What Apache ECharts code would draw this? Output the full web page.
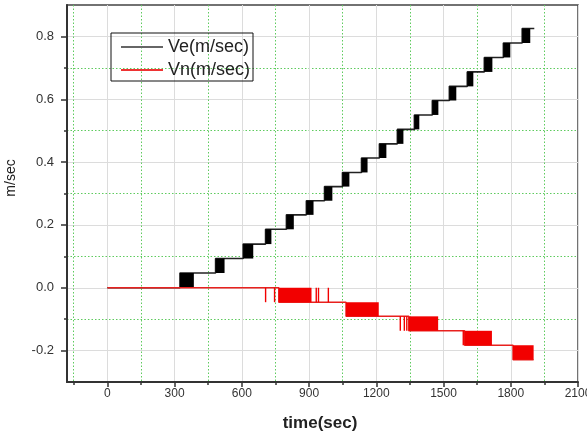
<!DOCTYPE html>
<html>
<head>
<meta charset="utf-8">
<script src="https://cdn.jsdelivr.net/npm/echarts@6/dist/echarts.min.js"></script>
<style>
html,body{margin:0;padding:0;background:#fff;}
#c{width:587px;height:442px;}
</style>
</head>
<body>
<div id="c"></div>
<script>
// ---- data ----
const xMajorTicks = [0, 300, 600, 900, 1200, 1500, 1800, 2100];
const xMinorTicks = [-150, 150, 450, 750, 1050, 1350, 1650, 1950];
const yMajorTicks = [-0.2, 0, 0.2, 0.4, 0.6, 0.8];
const yMinorTicks = [-0.1, 0.1, 0.3, 0.5, 0.7];

// Ve: step levels, and the time spans of the rapid-switching blocks between levels
const veLevels = [0, 0.047, 0.093, 0.139, 0.186, 0.232, 0.277, 0.322, 0.367, 0.413, 0.458, 0.504, 0.550, 0.596, 0.641, 0.687, 0.733, 0.779, 0.825];
const veBlockStart = [324, 483, 606, 706, 799, 888, 969, 1049, 1134, 1214, 1294, 1370, 1450, 1526, 1606, 1682, 1767, 1851];
const veBlockEnd   = [386, 523, 651, 732, 832, 920, 1004, 1080, 1161, 1245, 1321, 1392, 1477, 1557, 1633, 1718, 1798, 1887];
const veStartTime = 0;
const veEndTime = 1905;

// Vn: step levels, switching blocks and isolated spikes
const vnLevels = [0, -0.046, -0.091, -0.137, -0.183, -0.229];
const vnBlockStart = [765, 1065, 1345, 1594, 1810];
const vnBlockEnd   = [911, 1211, 1476, 1716, 1902];
const vnSpikeTimes = [703, 743, 929, 939, 983, 1304, 1322, 1333, 1585];
const vnSpikeStep  = [0, 0, 0, 0, 0, 2, 2, 2, 3];
const vnStartTime = 0;
const vnEndTime = 1902;

// ---- build series data ----
function buildLine(levels, starts, ends, t0, tEnd) {
  const pts = [[t0, levels[0]]];
  for (let k = 0; k < starts.length; k++) {
    pts.push([starts[k], levels[k]]);
    pts.push([starts[k], levels[k + 1]]);
  }
  pts.push([tEnd, levels[levels.length - 1]]);
  return pts;
}
function buildBlocks(levels, starts, ends) {
  return starts.map((s, k) => [s, ends[k], Math.min(levels[k], levels[k + 1]), Math.max(levels[k], levels[k + 1])]);
}
const veLine = buildLine(veLevels, veBlockStart, veBlockEnd, veStartTime, veEndTime);
const veBlocks = buildBlocks(veLevels, veBlockStart, veBlockEnd);
const vnLine = buildLine(vnLevels, vnBlockStart, vnBlockEnd, vnStartTime, vnEndTime);
const vnBlocks = buildBlocks(vnLevels, vnBlockStart, vnBlockEnd).concat(
  vnSpikeTimes.map((t, i) => [t, t, Math.min(vnLevels[vnSpikeStep[i]], vnLevels[vnSpikeStep[i] + 1]), Math.max(vnLevels[vnSpikeStep[i]], vnLevels[vnSpikeStep[i] + 1])])
);

function blockRenderer(color) {
  return function (params, api) {
    const p0 = api.coord([api.value(0), api.value(3)]);
    const p1 = api.coord([api.value(1), api.value(2)]);
    const w = Math.max(p1[0] - p0[0], 1.4);
    return {
      type: 'rect',
      shape: { x: p0[0], y: p0[1], width: w, height: p1[1] - p0[1] },
      style: { fill: color }
    };
  };
}

const FONT = "'Liberation Sans', Arial, sans-serif";
const chart = echarts.init(document.getElementById('c'), null, { renderer: 'canvas' });

chart.setOption({
  animation: false,
  backgroundColor: '#fff',
  grid: { left: 67, right: 9, top: 5, bottom: 60, outerBoundsMode: 'none', containLabel: false,
    show: true, borderColor: '#444', borderWidth: 1.5, backgroundColor: 'transparent' },
  xAxis: [
    {
      type: 'value', min: -180, max: 2100, position: 'bottom',
      axisLine: { show: true, onZero: false, lineStyle: { color: '#333', width: 2 } },
      axisTick: { show: true, customValues: xMajorTicks, length: 5, lineStyle: { color: '#333', width: 1.5 } },
      axisLabel: { customValues: xMajorTicks, fontSize: 12, color: '#333', margin: 6, fontFamily: FONT,
        alignMaxLabel: 'center', formatter: v => String(v) },
      splitLine: { show: true, lineStyle: { color: '#dcdcdc', width: 1 } }
    },
    {
      type: 'value', min: -180, max: 2100, position: 'bottom',
      axisLine: { show: false, onZero: false },
      axisTick: { show: true, customValues: xMinorTicks, length: 3, lineStyle: { color: '#333', width: 1.5 } },
      axisLabel: { show: false, customValues: xMinorTicks },
      splitLine: { show: true, lineStyle: { color: '#5ecb5e', width: 1, type: [1.5, 2] } }
    }
  ],
  yAxis: [
    {
      type: 'value', min: -0.3, max: 0.9, position: 'left',
      axisLine: { show: true, onZero: false, lineStyle: { color: '#333', width: 2 } },
      axisTick: { show: true, customValues: yMajorTicks, length: 6, lineStyle: { color: '#333', width: 1.5 } },
      axisLabel: { customValues: yMajorTicks, fontSize: 13, color: '#333', margin: 13, fontFamily: FONT,
        formatter: v => v.toFixed(1) },
      splitLine: { show: true, lineStyle: { color: '#dcdcdc', width: 1 } }
    },
    {
      type: 'value', min: -0.3, max: 0.9, position: 'left',
      axisLine: { show: false, onZero: false },
      axisTick: { show: true, customValues: yMinorTicks, length: 3, lineStyle: { color: '#333', width: 1.5 } },
      axisLabel: { show: false, customValues: yMinorTicks },
      splitLine: { show: true, lineStyle: { color: '#5ecb5e', width: 1, type: [1.5, 2] } }
    }
  ],
  legend: {
    orient: 'vertical', left: 111, top: 33,
    borderColor: '#111', borderWidth: 1, padding: [5, 3, 2, 10],
    itemWidth: 42, itemHeight: 2, itemGap: 5, icon: 'rect',
    textStyle: { fontSize: 18, color: '#222', fontFamily: FONT },
    data: [
      { name: 'Ve(m/sec)', itemStyle: { color: '#666' } },
      { name: 'Vn(m/sec)', itemStyle: { color: '#e33' } }
    ]
  },
  graphic: [
    { type: 'text', x: 11, y: 178, rotation: Math.PI / 2,
      style: { text: 'm/sec', fontSize: 14, fill: '#222', fontFamily: FONT, align: 'center', verticalAlign: 'middle' } },
    { type: 'text', x: 320, y: 423,
      style: { text: 'time(sec)', fontSize: 17, fontWeight: 'bold', fill: '#222', fontFamily: FONT, align: 'center', verticalAlign: 'middle' } }
  ],
  series: [
    { name: 'Ve(m/sec)', type: 'line', z: 2, xAxisIndex: 0, yAxisIndex: 0, data: veLine, showSymbol: false, symbol: 'none',
      lineStyle: { color: '#222', width: 1.6 }, itemStyle: { color: '#222' } },
    { name: 'Ve(m/sec)', type: 'custom', z: 3, xAxisIndex: 0, yAxisIndex: 0, data: veBlocks,
      encode: { x: [0, 1], y: [2, 3] }, renderItem: blockRenderer('#000') },
    { name: 'Vn(m/sec)', type: 'line', z: 4, xAxisIndex: 0, yAxisIndex: 0, data: vnLine, showSymbol: false, symbol: 'none',
      lineStyle: { color: '#e8211e', width: 1.5 }, itemStyle: { color: '#e8211e' } },
    { name: 'Vn(m/sec)', type: 'custom', z: 5, xAxisIndex: 0, yAxisIndex: 0, data: vnBlocks,
      encode: { x: [0, 1], y: [2, 3] }, renderItem: blockRenderer('#f20000') }
  ]
});
</script>
</body>
</html>
